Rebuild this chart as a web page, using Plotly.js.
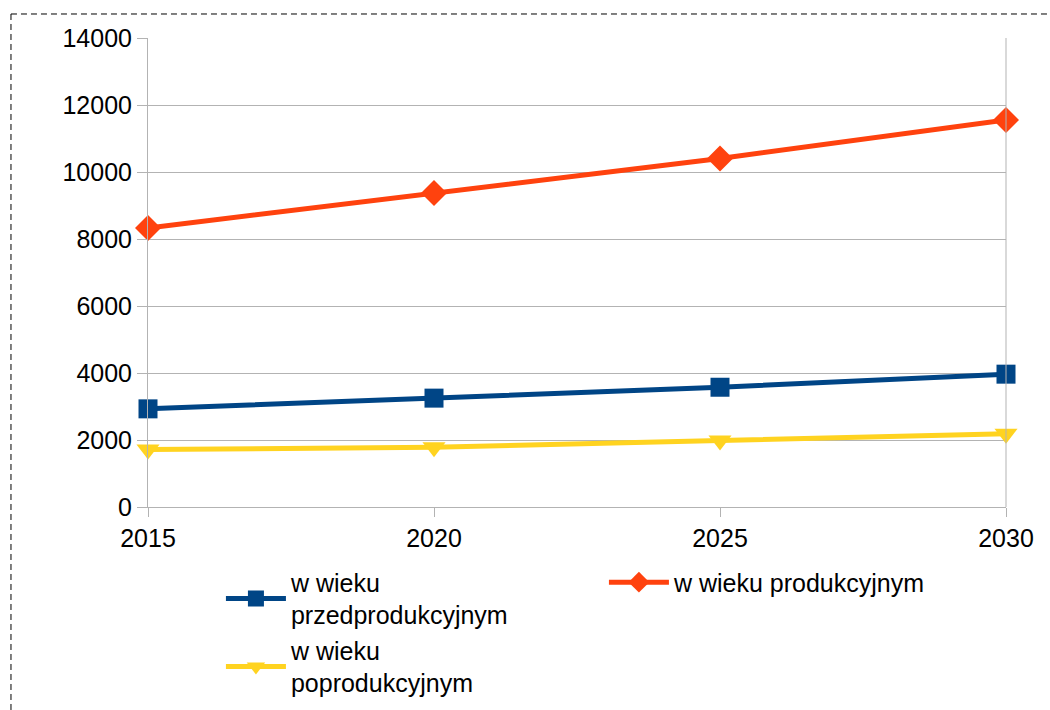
<!DOCTYPE html>
<html>
<head>
<meta charset="utf-8">
<script src="https://cdn.plot.ly/plotly-3.0.1.min.js"></script>
<style>
  html, body { margin: 0; padding: 0; background: #fff; }
  #chart { width: 1050px; height: 710px; }
</style>
</head>
<body>
<div id="chart"></div>
<script>
// lata prognozy
const years = [2015, 2020, 2025, 2030];

// ludność wg ekonomicznych grup wieku
const przedprodukcyjny = [2930, 3250, 3575, 3965];
const produkcyjny = [8330, 9375, 10405, 11550];
const poprodukcyjny = [1715, 1785, 1985, 2185];

const seriesNames = [
    'w wieku<br>przedprodukcyjnym',
    'w wieku produkcyjnym',
    'w wieku<br>poprodukcyjnym'
];

const yTicks = [0, 2000, 4000, 6000, 8000, 10000, 12000, 14000];

const FONT = 'Liberation Sans, Arial, sans-serif';
const GRID = '#b3b3b3';

function lineTrace(y, name, color, symbol, size, legend) {
    return {
        x: years,
        y: y,
        name: name,
        legend: legend,
        type: 'scatter',
        mode: 'lines+markers',
        line: { color: color, width: 5 },
        marker: { symbol: symbol, size: size, color: color },
        cliponaxis: false
    };
}

const traces = [
    lineTrace(przedprodukcyjny, seriesNames[0], '#004586', 'square', 19, 'legend'),
    lineTrace(produkcyjny, seriesNames[1], '#ff420e', 'diamond', 20, 'legend'),
    lineTrace(poprodukcyjny, seriesNames[2], '#ffd320', 'triangle-down', 20, 'legend2')
];

const legendBase = {
    orientation: 'h',
    xanchor: 'left',
    yanchor: 'middle',
    itemwidth: 60,
    entrywidth: 308,
    entrywidthmode: 'pixels',
    font: { family: FONT, size: 25, color: '#000' },
    bgcolor: 'rgba(0,0,0,0)',
    valign: 'middle'
};

const layout = {
    width: 1050,
    height: 710,
    margin: { l: 148, r: 44, t: 38, b: 203, autoexpand: false },
    paper_bgcolor: '#fff',
    plot_bgcolor: '#fff',
    font: { family: FONT, color: '#000', size: 25 },
    showlegend: true,
    xaxis: {
        range: [2015, 2030],
        tickvals: years,
        ticktext: years.map(String),
        showgrid: false,
        zeroline: false,
        showline: true,
        linecolor: GRID,
        linewidth: 1,
        ticks: 'outside',
        ticklen: 9,
        tickcolor: GRID,
        tickfont: { family: FONT, size: 25, color: '#000' },
        fixedrange: true
    },
    yaxis: {
        range: [0, 14000],
        tickvals: yTicks,
        ticktext: yTicks.map(String),
        showgrid: true,
        gridcolor: GRID,
        gridwidth: 1,
        zeroline: false,
        showline: true,
        linecolor: GRID,
        ticks: 'outside',
        ticklen: 10,
        tickcolor: GRID,
        tickfont: { family: FONT, size: 25, color: '#000' },
        fixedrange: true
    },
    legend: Object.assign({}, legendBase, { x: 0.085, y: -0.195 }),
    legend2: Object.assign({}, legendBase, { x: 0.085, y: -0.34 }),
    shapes: [
        // prawa krawędź obszaru wykresu
        { type: 'line', xref: 'paper', yref: 'paper', x0: 1, x1: 1, y0: 0, y1: 1,
          line: { color: GRID, width: 1 } },
        // przerywana ramka
        { type: 'line', xref: 'paper', yref: 'paper', x0: -0.1597, x1: 1.06, y0: 1.0512, y1: 1.0512,
          line: { color: '#000', width: 1, dash: '6px,4px' } },
        { type: 'line', xref: 'paper', yref: 'paper', x0: -0.1597, x1: -0.1597, y0: 1.0512, y1: -0.45,
          line: { color: '#000', width: 1, dash: '6px,4px' } }
    ]
};

Plotly.newPlot('chart', traces, layout, { displayModeBar: false, staticPlot: true });
</script>
</body>
</html>
